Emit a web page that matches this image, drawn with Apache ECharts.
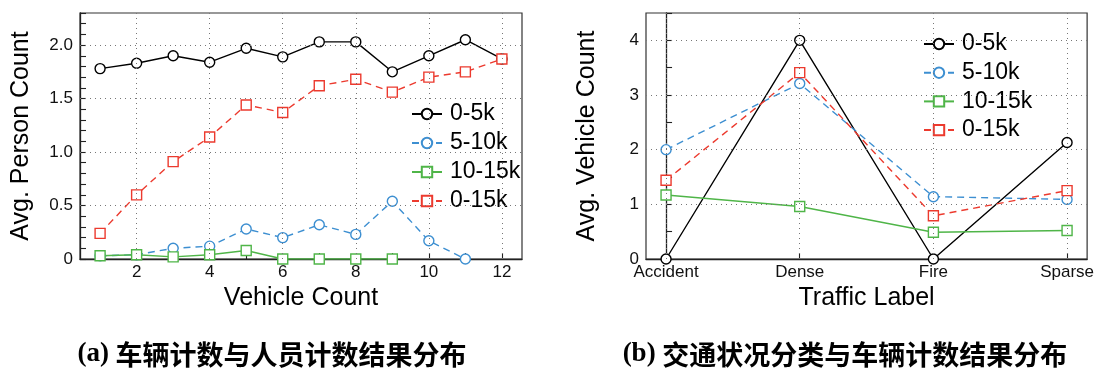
<!DOCTYPE html>
<html>
<head>
<meta charset="utf-8">
<script src="https://cdn.jsdelivr.net/npm/echarts@6/dist/echarts.min.js"></script>
<style>
  html, body { margin: 0; padding: 0; background: #fff; }
  #chart { width: 1097px; height: 368px; }
</style>
</head>
<body>
<div id="chart"></div>
<script>
// (a) person count vs vehicle count
const vehicleCounts = [1, 2, 3, 4, 5, 6, 7, 8, 9, 10, 11, 12];
const person0to5k   = [1.78, 1.83, 1.90, 1.84, 1.97, 1.89, 2.03, 2.03, 1.75, 1.90, 2.05, 1.87];
const person5to10k  = [0.03, 0.04, 0.10, 0.12, 0.28, 0.20, 0.32, 0.23, 0.54, 0.17, 0.00];
const person10to15k = [0.03, 0.04, 0.02, 0.04, 0.08, 0.00, 0.00, 0.00, 0.00];
const person0to15k  = [0.24, 0.60, 0.91, 1.14, 1.44, 1.37, 1.62, 1.68, 1.56, 1.70, 1.75, 1.87];
const leftXLabelValues = [2, 4, 6, 8, 10, 12];
const leftYLabelValues = [0, 0.5, 1.0, 1.5, 2.0];

// (b) vehicle count per traffic label
const trafficLabels = ['Accident', 'Dense', 'Fire', 'Sparse'];
const vehicle0to5k   = [0.00, 4.00, 0.00, 2.13];
const vehicle5to10k  = [2.00, 3.21, 1.14, 1.09];
const vehicle10to15k = [1.17, 0.96, 0.49, 0.52];
const vehicle0to15k  = [1.44, 3.41, 0.79, 1.25];
const rightYLabelValues = [0, 1, 2, 3, 4];

const seriesNames = ['0-5k', '5-10k', '10-15k', '0-15k'];
const colors = { '0-5k': '#000000', '5-10k': '#3d8fd1', '10-15k': '#4fb548', '0-15k': '#ec3a2e' };
const symbols = { '0-5k': 'circle', '5-10k': 'circle', '10-15k': 'rect', '0-15k': 'rect' };
const dashed = { '0-5k': false, '5-10k': true, '10-15k': false, '0-15k': true };

const FONT = '"Liberation Sans", Arial, Helvetica, sans-serif';

function zip(xs, ys) { return ys.map((v, i) => [xs[i], v]); }

function makeSeries(name, data, idx) {
  const c = colors[name];
  return {
    name: name, type: 'line', data: data,
    xAxisIndex: idx, yAxisIndex: idx,
    symbol: symbols[name], symbolSize: 10,
    lineStyle: { color: c, width: 1.4, type: dashed[name] ? [7, 5] : 'solid' },
    itemStyle: { color: '#fff', borderColor: c, borderWidth: 1.4 },
    emphasis: { disabled: true },
    animation: false
  };
}

function gridLines(idx, xs, ys) {
  return {
    type: 'line', name: 'grid' + idx, data: [], xAxisIndex: idx, yAxisIndex: idx,
    silent: true, z: 1, animation: false,
    markLine: {
      silent: true, animation: false, symbol: ['none', 'none'],
      label: { show: false },
      lineStyle: { color: '#777', width: 1, type: [1, 4] },
      emphasis: { disabled: true },
      data: xs.map(v => ({ xAxis: v })).concat(ys.map(v => ({ yAxis: v })))
    }
  };
}

function caption(tag, text, cx) {
  return {
    type: 'text', x: cx, y: 341,
    style: {
      text: '{l|' + tag + '} {c|' + text + '}',
      rich: {
        l: { fontFamily: '"Liberation Serif", "Times New Roman", serif', fontWeight: 'bold', fontSize: 27, fill: '#000' },
        c: { fontFamily: '"Noto Sans CJK SC", sans-serif', fontWeight: 'bold', fontSize: 27, fill: '#000' }
      },
      font: 'bold 27px "Liberation Serif", serif',
      align: 'center', verticalAlign: 'top', fill: '#000'
    }
  };
}

const axisLineStyle = { lineStyle: { color: '#222', width: 1.3 } };
const tickStyle = { inside: true, length: 6, lineStyle: { color: '#222', width: 1.1 } };
const labelStyle = { color: '#111', fontSize: 17, fontFamily: FONT };
const nameStyle = { color: '#000', fontSize: 25, fontFamily: FONT };
const legendText = { fontSize: 23, fontFamily: FONT, color: '#000', lineHeight: 24, padding: [0, 0, 0, 3] };

const chart = echarts.init(document.getElementById('chart'), null, { renderer: 'canvas' });

chart.setOption({
  backgroundColor: '#fff',
  animation: false,
  grid: [
    { left: 80, top: 13, width: 442, height: 246, show: true, borderColor: '#333', borderWidth: 1.2, containLabel: false },
    { left: 646, top: 13, width: 442, height: 246, show: true, borderColor: '#333', borderWidth: 1.2, containLabel: false }
  ],
  xAxis: [
    {
      gridIndex: 0, type: 'value', min: 0.45, max: 12.55,
      name: 'Vehicle Count', nameLocation: 'middle', nameGap: 25, nameTextStyle: nameStyle,
      axisLine: axisLineStyle,
      axisTick: Object.assign({ customValues: vehicleCounts }, tickStyle),
      axisLabel: Object.assign({ customValues: leftXLabelValues, margin: 5 }, labelStyle),
      splitLine: { show: false }
    },
    {
      gridIndex: 1, type: 'value', min: -0.15, max: 3.15,
      name: 'Traffic Label', nameLocation: 'middle', nameGap: 25, nameTextStyle: nameStyle,
      axisLine: axisLineStyle,
      axisTick: Object.assign({ customValues: [0, 1, 2, 3] }, tickStyle),
      axisLabel: Object.assign({
        customValues: [0, 1, 2, 3], margin: 5,
        formatter: v => trafficLabels[Math.round(v)]
      }, labelStyle),
      splitLine: { show: false }
    }
  ],
  yAxis: [
    {
      gridIndex: 0, type: 'value', min: 0, max: 2.3, interval: 0.1,
      name: 'Avg. Person Count', nameLocation: 'middle', nameGap: 46, nameTextStyle: nameStyle,
      axisLine: axisLineStyle,
      axisTick: tickStyle,
      axisLabel: Object.assign({
        customValues: leftYLabelValues, margin: 7,
        formatter: v => (v === 0 ? '0' : v.toFixed(1))
      }, labelStyle),
      splitLine: { show: false }
    },
    {
      gridIndex: 1, type: 'value', min: 0, max: 4.5, interval: 0.5,
      name: 'Avg. Vehicle Count', nameLocation: 'middle', nameGap: 46, nameTextStyle: nameStyle,
      axisLine: axisLineStyle,
      axisTick: tickStyle,
      axisLabel: Object.assign({
        customValues: rightYLabelValues, margin: 7,
        formatter: v => String(Math.round(v))
      }, labelStyle),
      splitLine: { show: false }
    }
  ],
  legend: [
    {
      data: seriesNames, orient: 'vertical', left: 406, top: 97,
      itemWidth: 30, itemHeight: 13, itemGap: 5,
      textStyle: legendText, selectedMode: false, backgroundColor: 'transparent'
    },
    {
      data: seriesNames, orient: 'vertical', left: 918, top: 27,
      itemWidth: 30, itemHeight: 13, itemGap: 4.7,
      textStyle: legendText, selectedMode: false, backgroundColor: 'transparent'
    }
  ],
  graphic: [
    caption('(a)', '车辆计数与人员计数结果分布', 272),
    caption('(b)', '交通状况分类与车辆计数结果分布', 845)
  ],
  series: [
    gridLines(0, leftXLabelValues, [0.5, 1.0, 1.5, 2.0]),
    gridLines(1, [0, 1, 2, 3], [1, 2, 3, 4]),
    makeSeries('0-5k', zip(vehicleCounts, person0to5k), 0),
    makeSeries('5-10k', zip(vehicleCounts, person5to10k), 0),
    makeSeries('10-15k', zip(vehicleCounts, person10to15k), 0),
    makeSeries('0-15k', zip(vehicleCounts, person0to15k), 0),
    makeSeries('0-5k', zip([0, 1, 2, 3], vehicle0to5k), 1),
    makeSeries('5-10k', zip([0, 1, 2, 3], vehicle5to10k), 1),
    makeSeries('10-15k', zip([0, 1, 2, 3], vehicle10to15k), 1),
    makeSeries('0-15k', zip([0, 1, 2, 3], vehicle0to15k), 1)
  ]
});
</script>
</body>
</html>
